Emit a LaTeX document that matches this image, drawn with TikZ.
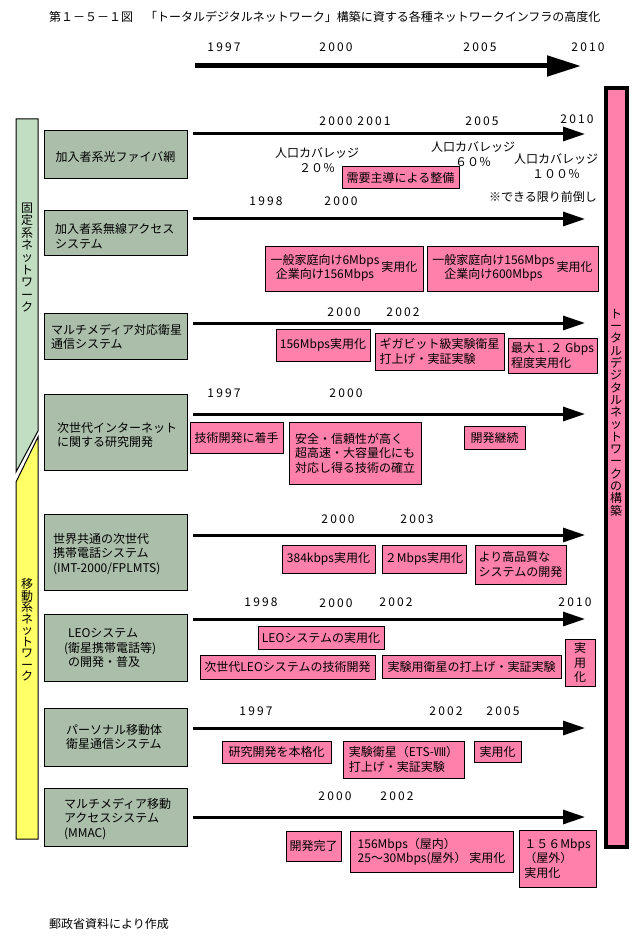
\documentclass[tikz,border=0pt]{standalone}
\usepackage{fontspec}
\setmainfont{Noto Sans CJK JP}
\newfontfamily\yrfont[LetterSpace=18]{Noto Sans CJK JP}
\usetikzlibrary{arrows.meta}
\definecolor{boxg}{RGB}{170,190,170}
\definecolor{barg}{RGB}{194,222,194}
\definecolor{bary}{RGB}{255,255,102}
\definecolor{pinkc}{RGB}{255,128,170}
\begin{document}
\begin{tikzpicture}[x=1pt,y=-1pt,
  every node/.style={inner sep=0pt, outer sep=0pt},
  txt/.style={font=\fontsize{12}{14.5}\selectfont},
  yr/.style={font=\fontsize{12}{14}\selectfont\yrfont},
  gb/.style={draw=black, line width=1pt, fill=boxg, anchor=north west, minimum width=143pt},
  pk/.style={draw=black, line width=1pt, fill=pinkc, anchor=north west, align=left, font=\fontsize{12}{14.5}\selectfont},
  tl/.style={line width=3pt, -{Triangle[length=22pt,width=14pt]}},
  vtxt/.style={align=center},
]
\fill[white] (0,0) rectangle (640,941);
\useasboundingbox (0,0) rectangle (640,941);

% title
\node[txt, anchor=west] (title) at (49,17) {第１－５－１図　「トータルデジタルネットワーク」構築に資する各種ネットワークインフラの高度化};

% top timeline
\node[yr] (ty1) at (224,47) {1997};
\node[yr] (ty2) at (336,47) {2000};
\node[yr] (ty3) at (480,47) {2005};
\node[yr] (ty4) at (588,47) {2010};
\coordinate (ts) at (195,66);
\coordinate (te) at (581,66);
\draw[line width=5pt, -{Triangle[length=34pt,width=20pt]}] (ts) -- (te);

% left bars
\draw[line width=1pt, fill=barg] (16,119) -- (38,119) -- (38,431) -- (16,472) -- cycle;
\draw[line width=1pt, fill=bary] (38,437) -- (38,839) -- (16,839) -- (16,482) -- cycle;
\node[vtxt, font=\fontsize{12}{12.4}\selectfont] (fixed) at (27,257.5) {固\\定\\系\\ネ\\ッ\\ト\\ワ\\ー\\ク};
\node[vtxt, font=\fontsize{12}{11.5}\selectfont] (mobile) at (27,630) {移\\動\\系\\ネ\\ッ\\ト\\ワ\\ー\\ク};

% right bar
\draw[line width=4pt, fill=pinkc] (605.5,88) rectangle (626.5,847);
\node[vtxt, font=\fontsize{12}{12.3}\selectfont] (total) at (616,412.5) {ト\\ー\\タ\\ル\\デ\\ジ\\タ\\ル\\ネ\\ッ\\ト\\ワ\\ー\\ク\\の\\構\\築};

% ---------- row 1
\node[gb, minimum height=48pt] (b1) at (44,131) {};
\node[txt] (b1t) at (115.5,157) {加入者系光ファイバ網};
\coordinate (a1s) at (193,134); \coordinate (a1e) at (585,134);
\draw[tl] (a1s) -- (a1e);
\node[yr] (y1a) at (355,121) {2000 2001};
\node[yr] (y1b) at (482,121) {2005};
\node[yr] (y1c) at (577,119) {2010};
\node[txt, align=center] (c20) at (317,160) {人口カバレッジ\\２０％};
\node[txt, align=center] (c60) at (473,154) {人口カバレッジ\\６０％};
\node[txt, align=center] (c100) at (556,166) {人口カバレッジ\\１００％};
\node[pk, minimum width=117pt, minimum height=22pt] (p1) at (342,167) {需要主導による整備};
\node[txt] (adv) at (543,197) {※できる限り前倒し};

% ---------- row 2
\node[yr] (y2a) at (266,201) {1998};
\node[yr] (y2b) at (341,201) {2000};
\node[gb, minimum height=44pt] (b2) at (44,211) {};
\node[txt, anchor=west, align=left] (b2t) at (55,236) {加入者系無線アクセス\\システム};
\coordinate (a2s) at (193,219); \coordinate (a2e) at (585,219);
\draw[tl] (a2s) -- (a2e);
\node[pk, minimum width=158pt, minimum height=45pt] (p2a) at (265,246) {\begin{tabular}{@{}c@{}}一般家庭向け6Mbps\\企業向け156Mbps\end{tabular}\,実用化};
\node[pk, minimum width=171pt, minimum height=45pt] (p2b) at (427,246) {\begin{tabular}{@{}c@{}}一般家庭向け156Mbps\\企業向け600Mbps\end{tabular}\,実用化};

% ---------- row 3
\node[yr] (y3a) at (344,312) {2000};
\node[yr] (y3b) at (403,312) {2002};
\node[gb, minimum height=46pt] (b3) at (44,313) {};
\node[txt, anchor=west, align=left] (b3t) at (51,337) {マルチメディア対応衛星\\通信システム};
\coordinate (a3s) at (193,323); \coordinate (a3e) at (585,323);
\draw[tl] (a3s) -- (a3e);
\node[pk, minimum width=94pt, minimum height=32pt] (p3a) at (276,329) {156Mbps実用化};
\node[pk, minimum width=129pt, minimum height=37pt] (p3b) at (375,333) {ギガビット級実験衛星\\打上げ・実証実験};
\node[pk, minimum width=89pt, minimum height=35pt] (p3c) at (508,338) {最大１.２ Gbps\\程度実用化};

% ---------- row 4
\node[yr] (y4a) at (224,393) {1997};
\node[yr] (y4b) at (346,393) {2000};
\node[gb, minimum height=76pt] (b4) at (44,394) {};
\node[txt, anchor=west, align=left] (b4t) at (57,435) {次世代インターネット\\に関する研究開発};
\coordinate (a4s) at (193,414); \coordinate (a4e) at (585,414);
\draw[tl] (a4s) -- (a4e);
\node[pk, minimum width=93pt, minimum height=31pt] (p4a) at (190,422) {技術開発に着手};
\node[pk, minimum width=132pt, minimum height=62pt] (p4b) at (289,422) {安全・信頼性が高く\\超高速・大容量化にも\\対応し得る技術の確立};
\node[pk, minimum width=61pt, minimum height=23pt] (p4c) at (464,426) {開発継続};

% ---------- row 5
\node[yr] (y5a) at (338,519) {2000};
\node[yr] (y5b) at (417,519) {2003};
\node[gb, minimum height=76pt] (b5) at (44,514) {};
\node[txt, anchor=west, align=left] (b5t) at (53,554) {世界共通の次世代\\携帯電話システム\\(IMT-2000/FPLMTS)};
\coordinate (a5s) at (193,535); \coordinate (a5e) at (585,535);
\draw[tl] (a5s) -- (a5e);
\node[pk, minimum width=93pt, minimum height=28pt] (p5a) at (282,545) {384kbps実用化};
\node[pk, minimum width=84pt, minimum height=28pt] (p5b) at (382,545) {２Mbps実用化};
\node[pk, minimum width=91pt, minimum height=39pt] (p5c) at (475,545) {より高品質な\\システムの開発};

% ---------- row 6
\node[yr] (y6a) at (261,602) {1998};
\node[yr] (y6b) at (336,603) {2000};
\node[yr] (y6c) at (396,602) {2002};
\node[yr] (y6d) at (575,602) {2010};
\node[gb, minimum height=67pt] (b6) at (44,614) {};
\node[txt, anchor=west, align=left] (b6t) at (64,648) {\hspace{4pt}LEOシステム\\(衛星携帯電話等)\\\hspace{4pt}の開発・普及};
\coordinate (a6s) at (193,619); \coordinate (a6e) at (585,619);
\draw[tl] (a6s) -- (a6e);
\node[pk, minimum width=126pt, minimum height=23pt] (p6a) at (258,626) {LEOシステムの実用化};
\node[pk, minimum width=175pt, minimum height=24pt] (p6b) at (200,655) {次世代LEOシステムの技術開発};
\node[pk, minimum width=179pt, minimum height=23pt] (p6c) at (382,655) {実験用衛星の打上げ・実証実験};
\node[pk, align=center, minimum width=30pt, minimum height=47pt] (p6d) at (565,639) {実\\用\\化};

% ---------- row 7
\node[yr] (y7a) at (256,711) {1997};
\node[yr] (y7b) at (446,711) {2002};
\node[yr] (y7c) at (503,711) {2005};
\node[gb, minimum height=58pt] (b7) at (44,708) {};
\node[txt, anchor=west, align=left] (b7t) at (66,737) {パーソナル移動体\\衛星通信システム};
\coordinate (a7s) at (193,728); \coordinate (a7e) at (585,728);
\draw[tl] (a7s) -- (a7e);
\node[pk, minimum width=109pt, minimum height=22pt] (p7a) at (222,741) {研究開発を本格化};
\node[pk, minimum width=121pt, minimum height=37pt] (p7b) at (343,741) {実験衛星（ETS-Ⅷ）\\打上げ・実証実験};
\node[pk, minimum width=47pt, minimum height=21pt] (p7c) at (474,741) {実用化};

% ---------- row 8
\node[yr] (y8a) at (335,796) {2000};
\node[yr] (y8b) at (397,796) {2002};
\node[gb, minimum height=58pt] (b8) at (44,788) {};
\node[txt, anchor=west, align=left] (b8t) at (64,819) {マルチメディア移動\\アクセスシステム\\(MMAC)};
\coordinate (a8s) at (193,817); \coordinate (a8e) at (585,817);
\draw[tl] (a8s) -- (a8e);
\node[pk, minimum width=55pt, minimum height=30pt] (p8a) at (286,831) {開発完了};
\node[pk, minimum width=163pt, minimum height=41pt] (p8b) at (350,831) {156Mbps（屋内）\\25～30Mbps(屋外） 実用化};
\node[pk, minimum width=77pt, minimum height=57pt] (p8c) at (519,830) {１５６Mbps\\（屋外）\\実用化};

% footer
\node[txt, anchor=west] (src) at (49,924) {郵政省資料により作成};
\end{tikzpicture}
\end{document}
